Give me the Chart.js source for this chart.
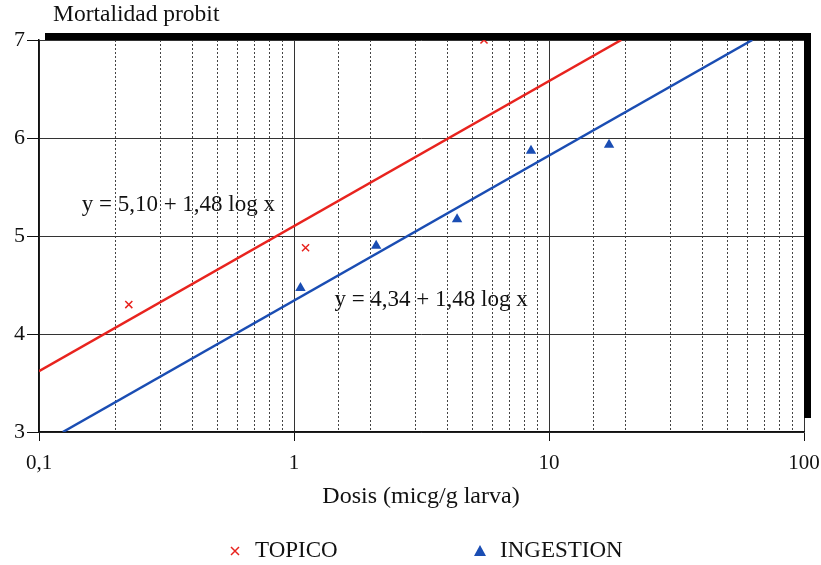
<!DOCTYPE html>
<html>
<head>
<meta charset="utf-8">
<script src="https://cdn.jsdelivr.net/npm/chart.js@4.4.1/dist/chart.umd.min.js"></script>
<style>
  html, body { margin: 0; padding: 0; background: #fff; }
  #wrap { width: 821px; height: 565px; position: relative; }
</style>
</head>
<body>
<div id="wrap"><canvas id="probit" width="821" height="565"></canvas></div>
<script>
// values
var topicoDose = [0.225, 1.11, 5.56];
var topicoProbit = [4.30, 4.88, 7.00];
var ingestDose = [1.06, 2.1, 4.36, 8.5, 17.2];
var ingestProbit = [4.47, 4.90, 5.17, 5.87, 5.93];

// fitted lines, endpoints
var topicoLineDose = [0.1, 19.2];
var topicoLineProbit = [3.62, 7.0];
var ingestLineDose = [0.124, 62.7];
var ingestLineProbit = [3.0, 7.0];

var xTickLabels = { 0.1: '0,1', 1: '1', 10: '10', 100: '100' };
var yTicks = [3, 4, 5, 6, 7];

var RED = '#e8231e';
var BLUE = '#1a4db3';
var FONT = '"Liberation Serif", "DejaVu Serif", serif';

const toPoints = (xs, ys) => xs.map((x, i) => ({ x: x, y: ys[i] }));

const isDecade = (v) => {
    let l = Math.log10(v);
    return Math.abs(l - Math.round(l)) < 1e-6;
};

// thick border, texts and legend drawn over the chart
const extras = {
    id: 'extras',
    afterDraw(chart) {
        let ctx = chart.ctx, a = chart.chartArea;
        let xs = chart.scales.x, ys = chart.scales.y;
        ctx.save();

        // shadow frame on top and right
        ctx.fillStyle = '#000';
        ctx.fillRect(a.left + 6, a.top - 7, a.right - a.left + 1, 7);
        ctx.fillRect(a.right, a.top - 7, 7, a.bottom - a.top - 7);

        ctx.fillStyle = '#111';
        ctx.font = '23.5px ' + FONT;
        ctx.textBaseline = 'middle';
        ctx.textAlign = 'left';
        ctx.fillText('Mortalidad probit', 53, 15);

        ctx.font = '24px ' + FONT;
        ctx.textAlign = 'center';
        ctx.fillText('Dosis (micg/g larva)', 421, 497);

        // equations
        ctx.font = '23px ' + FONT;
        ctx.textAlign = 'left';
        ctx.fillText('y = 5,10 + 1,48 log x', xs.getPixelForValue(0.147), ys.getPixelForValue(5.32));
        ctx.fillText('y = 4,34 + 1,48 log x', xs.getPixelForValue(1.44), ys.getPixelForValue(4.35));

        // legend
        let ly = 551;
        ctx.strokeStyle = RED;
        ctx.lineWidth = 1.5;
        let cx = 235, s = 4;
        ctx.beginPath();
        ctx.moveTo(cx - s, ly - s); ctx.lineTo(cx + s, ly + s);
        ctx.moveTo(cx + s, ly - s); ctx.lineTo(cx - s, ly + s);
        ctx.stroke();
        ctx.fillStyle = '#111';
        ctx.fillText('TOPICO', 255, ly);

        ctx.fillStyle = BLUE;
        let tx = 480;
        ctx.beginPath();
        ctx.moveTo(tx, ly - 6); ctx.lineTo(tx + 6, ly + 5); ctx.lineTo(tx - 6, ly + 5);
        ctx.closePath();
        ctx.fill();
        ctx.fillStyle = '#111';
        ctx.fillText('INGESTION', 500, ly);

        ctx.restore();
    }
};

function initProbitChart() {
    let canvas = document.getElementById('probit').getContext('2d');

    var data = {
        datasets: [
            {
                label: 'TOPICO',
                data: toPoints(topicoDose, topicoProbit),
                pointStyle: 'crossRot',
                pointRadius: 5,
                borderColor: RED,
                borderWidth: 1.5,
                showLine: false
            },
            {
                label: 'INGESTION',
                data: toPoints(ingestDose, ingestProbit),
                pointStyle: 'triangle',
                pointRadius: 6,
                backgroundColor: BLUE,
                borderColor: BLUE,
                borderWidth: 0,
                showLine: false
            },
            {
                label: 'fit topico',
                data: toPoints(topicoLineDose, topicoLineProbit),
                showLine: true,
                pointRadius: 0,
                borderColor: RED,
                borderWidth: 2.5
            },
            {
                label: 'fit ingestion',
                data: toPoints(ingestLineDose, ingestLineProbit),
                showLine: true,
                pointRadius: 0,
                borderColor: BLUE,
                borderWidth: 2.5
            }
        ]
    };

    var options = {
        responsive: false,
        animation: false,
        layout: { padding: { left: 0, right: 17, top: 40, bottom: 0 } },
        plugins: {
            legend: { display: false },
            tooltip: { enabled: false }
        },
        scales: {
            x: {
                type: 'logarithmic',
                min: 0.1,
                max: 100,
                afterFit: (s) => {
                    s.height = 133;
                    s.paddingLeft = 0;
                    s.paddingRight = 0;
                },
                grid: {
                    color: (c) => c.tick && isDecade(c.tick.value) ? '#333' : '#444',
                    lineWidth: 1,
                    tickLength: 9,
                    tickColor: (c) => c.tick && isDecade(c.tick.value) ? '#111' : 'rgba(0,0,0,0)'
                },
                border: {
                    display: true,
                    color: '#111',
                    width: 1.5,
                    dash: (c) => c.tick && !isDecade(c.tick.value) ? [2, 2] : []
                },
                ticks: {
                    autoSkip: false,
                    maxRotation: 0,
                    padding: 10,
                    color: '#111',
                    font: { family: FONT, size: 21 },
                    callback: (v) => xTickLabels[v] !== undefined ? xTickLabels[v] : ''
                }
            },
            y: {
                min: 3,
                max: 7,
                afterFit: (s) => {
                    s.width = 39;
                    s.paddingTop = 0;
                    s.paddingBottom = 0;
                },
                afterBuildTicks: (s) => { s.ticks = yTicks.map(v => ({ value: v })); },
                grid: {
                    color: '#333',
                    lineWidth: 1,
                    tickLength: 12,
                    tickColor: '#111'
                },
                border: { display: true, color: '#111', width: 1.5 },
                ticks: {
                    padding: 2,
                    color: '#111',
                    font: { family: FONT, size: 22 }
                }
            }
        }
    };

    return new Chart(canvas, {
        type: 'scatter',
        data: data,
        options: options,
        plugins: [extras]
    });
}

window.probitChart = initProbitChart();
</script>
</body>
</html>
